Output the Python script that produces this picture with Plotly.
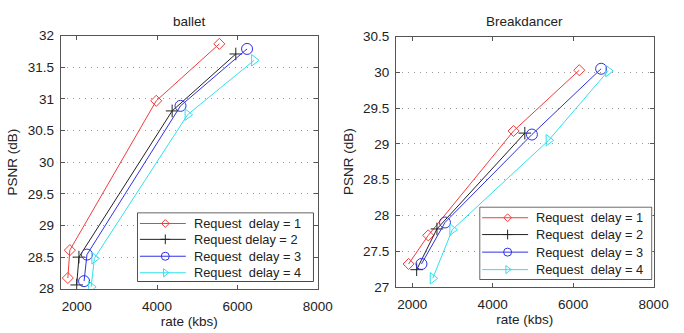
import plotly.graph_objects as go

names = ["Request\u00a0\u00a0delay = 1", "Request delay = 2", "Request\u00a0\u00a0delay = 3", "Request\u00a0\u00a0delay = 4"]
names_r = ["Request\u00a0\u00a0delay = 1", "Request\u00a0\u00a0delay = 2", "Request\u00a0\u00a0delay = 3", "Request\u00a0\u00a0delay = 4"]
colors = ["#f03c3c", "#222222", "#3030e6", "#30e0ee"]
symbols = ["diamond-open", "cross-thin-open", "circle-open", "triangle-right-open"]
sizes = [8.5, 9, 11, 10]
leg_sizes = [6, 7, 8, 7]

# ballet
ballet_rate = [
    [1780, 1830, 3980, 5550],
    [2000, 2056, 4376, 5960],
    [2184, 2256, 4584, 6240],
    [2360, 2440, 4760, 6416],
]
ballet_psnr = [
    [28.17, 28.61, 30.97, 31.87],
    [28.06, 28.50, 30.81, 31.71],
    [28.12, 28.54, 30.89, 31.79],
    [28.03, 28.48, 30.75, 31.61],
]
# Breakdancer
bd_rate = [
    [1912, 2400, 4520, 6152],
    [2112, 2616, 4800],
    [2232, 2816, 4976, 6696],
    [2512, 3000, 5392, 6872],
]
bd_psnr = [
    [27.32, 27.72, 29.18, 30.03],
    [27.24, 27.81, 29.15],
    [27.32, 27.90, 29.13, 30.05],
    [27.12, 27.80, 29.05, 30.02],
]

W, H = 684, 333
font = dict(family="Liberation Sans, Arial, sans-serif", size=13.5, color="#222")
lfont = dict(family="Liberation Sans, Arial, sans-serif", size=12.8, color="#222")

fig = go.Figure()
for i in range(4):
    fig.add_trace(go.Scatter(x=ballet_rate[i], y=ballet_psnr[i], mode="lines+markers",
                             name=names[i], line=dict(color=colors[i], width=1), showlegend=False,
                             marker=dict(symbol=symbols[i], size=sizes[i], color=colors[i], line=dict(width=1)),
                             xaxis="x", yaxis="y"))
for i in range(4):
    fig.add_trace(go.Scatter(x=bd_rate[i], y=bd_psnr[i], mode="lines+markers",
                             name=names_r[i], line=dict(color=colors[i], width=1), showlegend=False,
                             marker=dict(symbol=symbols[i], size=sizes[i], color=colors[i], line=dict(width=1)),
                             xaxis="x2", yaxis="y2"))

# custom legends drawn in their own small subplots (box in pixels: left, top, right, bottom)
annotations = []
shapes = []
def add_legend(labels, ax, box, row_px, line_px, text_px):
    l, t, r, b = box
    xa, ya = "xaxis%d" % ax, "yaxis%d" % ax
    xr, yr = "x%d" % ax, "y%d" % ax
    fig.layout[xa] = dict(domain=[l / W, r / W], range=[l, r], visible=False, fixedrange=True, anchor=yr)
    fig.layout[ya] = dict(domain=[(H - b) / H, (H - t) / H], range=[b, t], visible=False, fixedrange=True, anchor=xr)
    shapes.append(dict(type="rect", xref=xr, yref=yr, x0=l + 0.5, x1=r - 0.5, y0=t + 0.5, y1=b - 0.5,
                       line=dict(color="#444", width=1), fillcolor="white", layer="below"))
    for i, lab in enumerate(labels):
        yy = t + row_px[i]
        fig.add_trace(go.Scatter(x=[l + line_px[0], l + line_px[2]], y=[yy, yy], mode="lines",
                                 line=dict(color=colors[i], width=1), showlegend=False, hoverinfo="skip",
                                 xaxis=xr, yaxis=yr))
        fig.add_trace(go.Scatter(x=[l + line_px[1]], y=[yy], mode="markers", showlegend=False, hoverinfo="skip",
                                 marker=dict(symbol=symbols[i], size=leg_sizes[i], color=colors[i], line=dict(width=1)),
                                 xaxis=xr, yaxis=yr))
        annotations.append(dict(text=lab, x=l + text_px, y=yy, xref=xr, yref=yr, showarrow=False,
                                xanchor="left", yanchor="middle", font=lfont, borderpad=0))

add_legend(names, 3, (140, 215, 321, 288), [11.7, 28.3, 46, 63.3], (3, 29, 50), 57)
add_legend(names_r, 4, (490, 209, 667, 286), [11.7, 29.3, 47.7, 66], (3, 29, 50), 57)

axcommon = dict(showline=True, linecolor="#555", linewidth=1, mirror="ticks", ticks="inside",
                ticklen=4, tickcolor="#555", zeroline=False, tickfont=font)
xcommon = dict(range=[1600, 8000], tickvals=[2000, 4000, 6000, 8000], showgrid=False,
               ticklabelstandoff=5, title=dict(text="rate (kbs)", font=font, standoff=2), **axcommon)
ycommon = dict(dtick=0.5, showgrid=True, gridcolor="#999", griddash="1px,5px", gridwidth=1,
               ticklabelstandoff=3, title=dict(text="PSNR (dB)", font=font, standoff=6), **axcommon)

annotations += [
    dict(text="ballet", x=(0.0906 + 0.475) / 2, y=0.955, xref="paper", yref="paper",
         showarrow=False, font=font, xanchor="center", yanchor="middle"),
    dict(text="Breakdancer", x=(0.592 + 0.977) / 2, y=0.955, xref="paper", yref="paper",
         showarrow=False, font=font, xanchor="center", yanchor="middle"),
]

fig.update_layout(
    width=W, height=H, margin=dict(l=0, r=0, t=0, b=0),
    paper_bgcolor="white", plot_bgcolor="white", font=font, showlegend=False,
    xaxis=dict(domain=[0.0906, 0.475], anchor="y", **xcommon),
    yaxis=dict(domain=[0.114, 0.91], range=[28, 32], anchor="x", **ycommon),
    xaxis2=dict(domain=[0.592, 0.977], anchor="y2", **xcommon),
    yaxis2=dict(domain=[0.12, 0.907], range=[27, 30.5], anchor="x2", **ycommon),
    annotations=annotations,
    shapes=shapes,
)

fig.write_html("out.html")
